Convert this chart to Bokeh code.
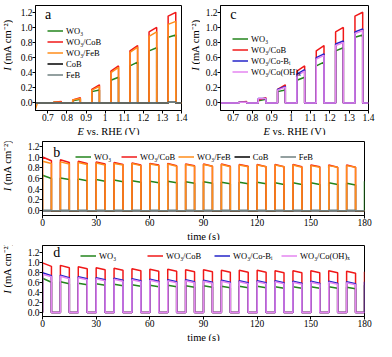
import math
from bokeh.plotting import figure
from bokeh.layouts import column, row
from bokeh.models import Legend, LegendItem, Label, Range1d, FixedTicker, PrintfTickFormatter
from bokeh.embed import file_html
from bokeh.resources import INLINE

FONT = "Liberation Serif"

C_WO3 = "#23841c"
C_COB = "#f01818"
C_FEB = "#ff8c1a"
C_COB_ONLY = "#000000"
C_FEB_ONLY = "#6f8080"
C_COBI = "#2424c8"
C_COOH = "#e486f0"

# ---------------- LSV (panels a and c) ----------------
lsv_on = [0.73, 0.83, 0.93, 1.03, 1.13, 1.23, 1.33]
lsv_off = [0.77, 0.87, 0.97, 1.07, 1.17, 1.27, 1.37]
lsv_E_end = 1.40
lsv_dark_E = [0.635, 0.645]
lsv_dark_zero = [0.0, 0.0]
lsv_dark_feb = [-0.08, 0.0]

wo3_lsv_start = [0.01, 0.03, 0.15, 0.30, 0.49, 0.69, 0.87]
wo3_lsv_end = [0.01, 0.05, 0.17, 0.34, 0.54, 0.73, 0.90]
cob_lsv_start = [0.01, 0.04, 0.18, 0.42, 0.69, 0.94, 1.15]
cob_lsv_end = [0.02, 0.07, 0.24, 0.49, 0.76, 1.00, 1.20]
feb_lsv_start = [0.01, 0.04, 0.17, 0.40, 0.67, 0.88, 1.04]
feb_lsv_end = [0.01, 0.06, 0.22, 0.47, 0.74, 0.94, 1.08]
cobonly_lsv_start = [0.0, 0.0, 0.0, 0.0, 0.0, 0.0, 0.01]
cobonly_lsv_end = [0.0, 0.0, 0.0, 0.0, 0.0, 0.0, 0.01]
febonly_lsv_start = [0.0, 0.0, 0.0, 0.0, 0.0, 0.0, 0.01]
febonly_lsv_end = [0.0, 0.0, 0.0, 0.0, 0.0, 0.0, 0.01]
cobi_lsv_start = [0.01, 0.06, 0.18, 0.38, 0.60, 0.78, 0.94]
cobi_lsv_end = [0.01, 0.06, 0.22, 0.44, 0.65, 0.82, 0.98]
cooh_lsv_start = [0.01, 0.06, 0.17, 0.36, 0.58, 0.76, 0.92]
cooh_lsv_end = [0.01, 0.06, 0.21, 0.42, 0.63, 0.80, 0.96]

lsv_xticks = [0.7, 0.8, 0.9, 1.0, 1.1, 1.2, 1.3, 1.4]
cur_yticks = [0.0, 0.2, 0.4, 0.6, 0.8, 1.0, 1.2]

# ---------------- chronoamperometry (panels b and d) ----------------
t_on = [0, 10, 20, 30, 40, 50, 60, 70, 80, 90, 100, 110, 120, 130, 140, 150, 160, 170]
t_off = [5, 15, 25, 35, 45, 55, 65, 75, 85, 95, 105, 115, 125, 135, 145, 155, 165, 175]
t_end = 180
time_xticks = [0, 30, 60, 90, 120, 150, 180]

b_wo3_start = [0.66, 0.61, 0.59, 0.58, 0.57, 0.56, 0.55, 0.55, 0.54, 0.54, 0.53, 0.53, 0.53, 0.52, 0.52, 0.52, 0.52, 0.51]
b_wo3_end = [0.60, 0.58, 0.56, 0.55, 0.54, 0.53, 0.52, 0.52, 0.51, 0.51, 0.50, 0.50, 0.50, 0.49, 0.49, 0.49, 0.49, 0.48]
b_cob_start = [1.00, 0.95, 0.92, 0.91, 0.90, 0.89, 0.88, 0.88, 0.87, 0.87, 0.87, 0.86, 0.86, 0.86, 0.86, 0.85, 0.85, 0.85]
b_cob_end = [0.93, 0.90, 0.88, 0.87, 0.86, 0.85, 0.85, 0.84, 0.84, 0.83, 0.83, 0.83, 0.82, 0.82, 0.82, 0.82, 0.81, 0.81]
b_feb_start = [0.92, 0.91, 0.90, 0.89, 0.88, 0.88, 0.87, 0.87, 0.86, 0.86, 0.86, 0.85, 0.85, 0.85, 0.85, 0.84, 0.84, 0.84]
b_feb_end = [0.88, 0.87, 0.86, 0.85, 0.85, 0.84, 0.84, 0.83, 0.83, 0.83, 0.82, 0.82, 0.82, 0.82, 0.81, 0.81, 0.81, 0.81]
b_cobonly = [0.0] * 18
b_febonly = [0.01] * 18
b_final = {"wo3": 0.55, "cob": 0.0, "feb": 0.0, "cobonly": 0.0, "febonly": 0.01}

d_wo3_start = [0.69, 0.62, 0.59, 0.58, 0.57, 0.56, 0.55, 0.55, 0.54, 0.54, 0.53, 0.53, 0.53, 0.52, 0.52, 0.52, 0.52, 0.51]
d_wo3_end = [0.61, 0.58, 0.56, 0.55, 0.54, 0.53, 0.52, 0.52, 0.51, 0.51, 0.50, 0.50, 0.50, 0.49, 0.49, 0.49, 0.49, 0.48]
d_cob_start = [1.00, 0.95, 0.92, 0.90, 0.89, 0.88, 0.87, 0.87, 0.86, 0.86, 0.85, 0.85, 0.85, 0.84, 0.84, 0.84, 0.84, 0.83]
d_cob_end = [0.93, 0.90, 0.88, 0.86, 0.85, 0.84, 0.83, 0.83, 0.82, 0.82, 0.81, 0.81, 0.81, 0.80, 0.80, 0.80, 0.80, 0.79]
d_cobi_start = [0.80, 0.75, 0.72, 0.70, 0.69, 0.68, 0.67, 0.66, 0.66, 0.65, 0.65, 0.64, 0.64, 0.64, 0.63, 0.63, 0.63, 0.62]
d_cobi_end = [0.74, 0.70, 0.68, 0.66, 0.65, 0.64, 0.63, 0.62, 0.62, 0.61, 0.61, 0.60, 0.60, 0.60, 0.59, 0.59, 0.59, 0.58]
d_cooh_start = [0.77, 0.73, 0.70, 0.68, 0.67, 0.66, 0.65, 0.64, 0.64, 0.63, 0.63, 0.62, 0.62, 0.62, 0.61, 0.61, 0.61, 0.60]
d_cooh_end = [0.72, 0.68, 0.66, 0.64, 0.63, 0.62, 0.61, 0.60, 0.60, 0.59, 0.59, 0.58, 0.58, 0.58, 0.57, 0.57, 0.57, 0.56]
d_final = {"wo3": 0.55, "cob": 0.82, "cobi": 0.62, "cooh": 0.0}

Y_LABEL_ITALIC = "I"
Y_LABEL_REST = "(mA cm\u207b\u00b2)"
E_LABEL_ITALIC = "E"
E_LABEL_REST = "vs. RHE (V)"
T_LABEL = "time (s)"
L_WO3 = "WO\u2083"
L_COB = "WO\u2083/CoB"
L_FEB = "WO\u2083/FeB"
L_COBI = "WO\u2083/Co-B\u1d62"
L_COOH = "WO\u2083/Co(OH)\u2093"

AX_FS = 10.5
LW = 1.5


def lsv_trace(dark_E, dark_I, s, e):
    xs, ys = list(dark_E), list(dark_I)
    for a_, b_, s_, e_ in zip(lsv_on, lsv_off, s, e):
        xs += [a_, a_, b_, b_]
        ys += [0.0, s_, e_, 0.0]
    xs.append(lsv_E_end)
    ys.append(0.0)
    return xs, ys


def chrono_trace(s, e, final):
    xs, ys = [], []
    for a_, b_, s_, e_ in zip(t_on, t_off, s, e):
        xs += [a_, a_, b_, b_]
        ys += [0.0, s_, e_, 0.0]
    xs += [t_end, t_end]
    ys += [0.0, final]
    return xs, ys


def lbl(p, x, y, text, italic=False, angle=0.0, align="left"):
    p.add_layout(Label(x=x, y=y, x_units="screen", y_units="screen", text=text,
                       text_font=FONT, text_font_size=f"{AX_FS}px",
                       text_font_style="italic" if italic else "normal",
                       text_color="black", text_baseline="middle", text_align=align,
                       angle=angle))


def strip(w, h):
    p = figure(width=w, height=h, x_range=Range1d(0, 1), y_range=Range1d(0, 1),
               output_backend="svg", toolbar_location=None, min_border=0,
               x_axis_type=None, y_axis_type=None)
    p.outline_line_color = None
    p.grid.visible = False
    p.background_fill_color = "white"
    p.border_fill_color = "white"
    return p


SPACE = 0.25 * AX_FS


def ylabel_strip(w, h, yc):
    s = strip(w, h)
    w_it, w_rest = 0.333 * AX_FS, 4.5 * AX_FS
    y0 = yc - (w_it + SPACE + w_rest) / 2
    lbl(s, w / 2 + 0.5, y0, Y_LABEL_ITALIC, italic=True, angle=math.pi / 2)
    lbl(s, w / 2 + 0.5, y0 + w_it + SPACE, Y_LABEL_REST, angle=math.pi / 2)
    return s


def add_e_label(s, xc, yc):
    w_it, w_rest = 0.611 * AX_FS, 5.03 * AX_FS
    x0 = xc - (w_it + SPACE + w_rest) / 2
    lbl(s, x0, yc, E_LABEL_ITALIC, italic=True)
    lbl(s, x0 + w_it + SPACE, yc, E_LABEL_REST)


def make_fig(w, h, xr, yr, left, right, top, bottom, xticks):
    p = figure(width=w, height=h, x_range=Range1d(*xr), y_range=Range1d(*yr),
               output_backend="svg", toolbar_location=None,
               min_border_left=left, min_border_right=right,
               min_border_top=top, min_border_bottom=bottom)
    p.grid.visible = False
    p.outline_line_color = "black"
    p.outline_line_width = 1
    p.outline_line_alpha = 1.0
    p.background_fill_color = "white"
    p.border_fill_color = "white"
    for ax in (p.xaxis[0], p.yaxis[0]):
        ax.axis_label = None
        ax.major_label_text_font = FONT
        ax.major_label_text_font_size = "9.5px"
        ax.major_label_text_color = "black"
        ax.axis_line_color = "black"
        ax.major_tick_line_color = "black"
        ax.major_tick_out = 3
        ax.major_tick_in = 0
        ax.minor_tick_line_color = None
        ax.major_label_standoff = 0
    p.xaxis.ticker = FixedTicker(ticks=xticks)
    p.yaxis.ticker = FixedTicker(ticks=cur_yticks)
    p.yaxis.formatter = PrintfTickFormatter(format="%.1f")
    return p


def style_legend(lg):
    lg.label_text_font = FONT
    lg.label_text_font_size = "8.5px"
    lg.label_text_color = "black"
    lg.border_line_color = None
    lg.background_fill_alpha = 0
    lg.padding = 0
    lg.margin = 0
    lg.glyph_width = 16
    lg.glyph_height = 11
    lg.label_height = 11
    lg.label_standoff = 3
    lg.spacing = 0


def letter(p, x, y, t):
    p.add_layout(Label(x=x, y=y, text=t, text_font=FONT, text_font_size="14px",
                       text_color="black", text_baseline="middle", text_align="left"))


lsv_xr = (0.635, 1.40)
cur_yr = (-0.10, 1.29)

# ---------- panel a ----------
pa = make_fig(175, 124, lsv_xr, cur_yr, 22, 7, 5, 14, lsv_xticks)
items = []
for lab, col, s, e, dI in [(L_WO3, C_WO3, wo3_lsv_start, wo3_lsv_end, lsv_dark_zero),
                           (L_COB, C_COB, cob_lsv_start, cob_lsv_end, lsv_dark_zero),
                           (L_FEB, C_FEB, feb_lsv_start, feb_lsv_end, lsv_dark_feb),
                           ("CoB", C_COB_ONLY, cobonly_lsv_start, cobonly_lsv_end, lsv_dark_zero),
                           ("FeB", C_FEB_ONLY, febonly_lsv_start, febonly_lsv_end, lsv_dark_zero)]:
    xs, ys = lsv_trace(lsv_dark_E, dI, s, e)
    r = pa.line(xs, ys, line_color=col, line_width=LW)
    items.append(LegendItem(label=lab, renderers=[r]))
lg = Legend(items=items, location=(12, 30), orientation="vertical")
style_legend(lg)
pa.add_layout(lg)
letter(pa, 0.685, 1.17, "a")

# ---------- panel c ----------
pc = make_fig(176, 124, lsv_xr, cur_yr, 20, 8, 5, 14, lsv_xticks)
items = []
for lab, col, s, e in [(L_WO3, C_WO3, wo3_lsv_start, wo3_lsv_end),
                       (L_COB, C_COB, cob_lsv_start, cob_lsv_end),
                       (L_COBI, C_COBI, cobi_lsv_start, cobi_lsv_end),
                       (L_COOH, C_COOH, cooh_lsv_start, cooh_lsv_end)]:
    xs, ys = lsv_trace(lsv_dark_E, lsv_dark_zero, s, e)
    r = pc.line(xs, ys, line_color=col, line_width=LW)
    items.append(LegendItem(label=lab, renderers=[r]))
lg = Legend(items=items, location=(12, 33), orientation="vertical")
style_legend(lg)
pc.add_layout(lg)
letter(pc, 0.685, 1.17, "c")

ya = ylabel_strip(13, 124, 124 - 5 - 105 / 2)
yc_ = ylabel_strip(12, 124, 124 - 5 - 105 / 2)
xs1 = strip(376, 11)
add_e_label(xs1, 13 + 22 + 146 / 2, 5.5)
add_e_label(xs1, 13 + 175 + 12 + 20 + 148 / 2, 5.5)

# ---------- panel b ----------
pb = make_fig(363, 94, (0, 180), (-0.09, 1.29), 29, 12, 6, 14, time_xticks)
items = []
for key, lab, col, s, e in [("wo3", L_WO3, C_WO3, b_wo3_start, b_wo3_end),
                            ("cob", L_COB, C_COB, b_cob_start, b_cob_end),
                            ("feb", L_FEB, C_FEB, b_feb_start, b_feb_end),
                            ("cobonly", "CoB", C_COB_ONLY, b_cobonly, b_cobonly),
                            ("febonly", "FeB", C_FEB_ONLY, b_febonly, b_febonly)]:
    xs, ys = chrono_trace(s, e, b_final[key])
    r = pb.line(xs, ys, line_color=col, line_width=LW)
    items.append(LegendItem(label=lab, renderers=[r]))
lg = Legend(items=items, location=(33, 53), orientation="horizontal")
style_legend(lg)
lg.label_width = 24
lg.spacing = 3
pb.add_layout(lg)
letter(pb, 6, 1.08, "b")
yb = ylabel_strip(13, 94, 94 - 6 - 74 / 2)
xs2 = strip(376, 11)
lbl(xs2, 13 + 29 + 322 / 2, 5.5, T_LABEL, align="center")

# ---------- panel d ----------
pd_ = make_fig(363, 90, (0, 180), (-0.08, 1.35), 29, 12, 5, 14, time_xticks)
items = []
for key, lab, col, s, e in [("wo3", L_WO3, C_WO3, d_wo3_start, d_wo3_end),
                            ("cob", L_COB, C_COB, d_cob_start, d_cob_end),
                            ("cobi", L_COBI, C_COBI, d_cobi_start, d_cobi_end),
                            ("cooh", L_COOH, C_COOH, d_cooh_start, d_cooh_end)]:
    xs, ys = chrono_trace(s, e, d_final[key])
    r = pd_.line(xs, ys, line_color=col, line_width=LW)
    items.append(LegendItem(label=lab, renderers=[r]))
lg = Legend(items=items, location=(38, 55), orientation="horizontal")
style_legend(lg)
lg.label_width = 48
pd_.add_layout(lg)
letter(pd_, 6, 1.2, "d")
yd = ylabel_strip(13, 90, 90 - 5 - 71 / 2)
xs3 = strip(376, 11)
lbl(xs3, 13 + 29 + 322 / 2, 5.5, T_LABEL, align="center")

layout = column(row(ya, pa, yc_, pc), xs1, row(yb, pb), xs2, row(yd, pd_), xs3)
open("out.html", "w").write(file_html(layout, INLINE))
